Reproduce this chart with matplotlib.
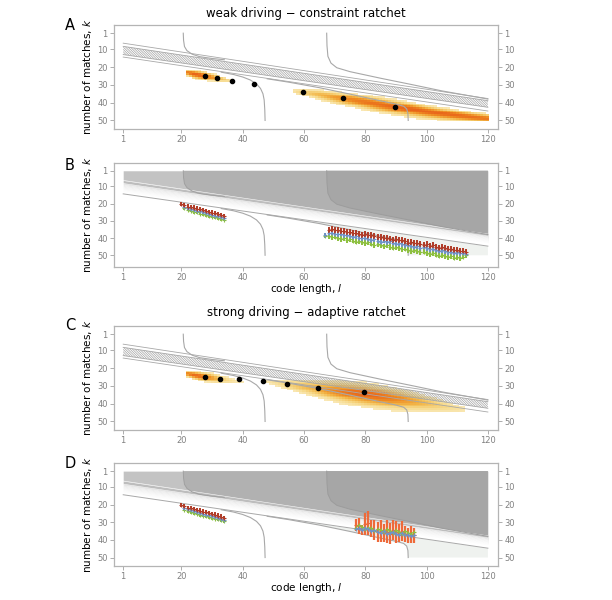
import numpy as np
import matplotlib
matplotlib.use("Agg")
from matplotlib import pyplot as plt
from matplotlib.colors import LinearSegmentedColormap

# ---------------- values ----------------
tick_x = [1, 20, 40, 60, 80, 100, 120]
tick_k = [1, 10, 20, 30, 40, 50]

# straight band of lines: k at l=1 and at l=120
band_x = [1, 120]
band_start = [6.6, 8.4, 9.0, 9.5, 10.0, 10.5, 11.0, 11.5, 12.0, 12.5, 13.0, 14.4]
band_end = [37.7, 38.9, 39.4, 39.8, 40.2, 40.6, 41.0, 41.4, 41.8, 42.2, 42.6, 44.7]

# curved boundaries (two branches each)
hyp1_up_x = [20.6, 20.7, 21.0, 21.8, 23.5, 26.0, 30.0, 34.0]
hyp1_up_k = [1.0, 5.0, 8.5, 10.8, 12.8, 14.2, 15.2, 15.9]
hyp1_lo_x = [47.3, 47.2, 47.0, 46.6, 45.8, 44.5, 42.5, 40.0, 37.0, 33.0]
hyp1_lo_k = [50.0, 44.0, 38.5, 35.0, 32.0, 29.5, 27.3, 25.6, 24.2, 22.9]
hyp2_up_x = [67.4, 67.5, 67.8, 68.8, 70.7, 75.0, 85.0, 95.0, 105.0, 120.0]
hyp2_up_k = [1.0, 8.0, 14.0, 17.8, 20.4, 22.6, 26.3, 29.8, 33.4, 38.0]
hyp2_lo_x = [94.0, 93.9, 93.5, 92.5, 90.0, 85.0, 75.0, 65.0, 55.0, 48.0]
hyp2_lo_k = [50.0, 46.0, 43.5, 42.0, 40.8, 39.0, 35.2, 31.6, 28.5, 26.6]

# mean trajectories (black dots)
dots_a_x = [27.7, 31.5, 36.6, 43.6, 59.7, 72.6, 89.6]
dots_a_k = [25.1, 26.2, 27.8, 29.8, 34.1, 37.5, 42.3]
dots_c_x = [27.7, 32.6, 38.8, 46.7, 54.6, 64.7, 79.7]
dots_c_k = [25.1, 25.9, 26.1, 27.4, 28.9, 31.0, 33.5]

# population density blobs: ridge, half width and peak per code length
blob_a1_x = [22, 24, 26, 28, 30, 32, 34, 36]
blob_a1_ridge = [23.2, 23.9, 24.5, 25.1, 25.7, 26.4, 27.0, 27.6]
blob_a1_hw = [1.2, 1.5, 1.6, 1.6, 1.5, 1.4, 1.2, 1.0]
blob_a1_peak = [0.85, 1.0, 1.0, 0.92, 0.72, 0.52, 0.36, 0.2]

blob_a2_x = [57, 60, 65, 70, 75, 80, 85, 90, 95, 100, 105, 110, 115, 120]
blob_a2_ridge = [33.6, 34.2, 35.5, 36.9, 38.2, 39.6, 41.0, 42.4, 43.7, 45.0, 46.1, 47.1, 48.0, 48.8]
blob_a2_hw = [1.2, 1.6, 2.0, 2.3, 2.5, 2.7, 2.8, 2.8, 2.7, 2.5, 2.3, 2.1, 1.9, 1.8]
blob_a2_peak = [0.18, 0.32, 0.5, 0.65, 0.78, 0.88, 0.94, 0.98, 1.0, 1.0, 0.98, 0.96, 0.92, 0.88]

blob_c1_x = [22, 24, 26, 28, 30, 32, 34, 36, 38, 40]
blob_c1_ridge = [23.3, 23.9, 24.5, 25.0, 25.5, 26.0, 26.5, 27.0, 27.4, 27.8]
blob_c1_hw = [1.2, 1.4, 1.6, 1.7, 1.8, 1.8, 1.7, 1.5, 1.3, 1.0]
blob_c1_peak = [0.8, 0.95, 0.95, 0.85, 0.65, 0.45, 0.32, 0.22, 0.14, 0.09]

blob_c2_x = [48, 52, 56, 60, 64, 68, 72, 76, 80, 84, 88, 92, 96, 100, 104, 108, 112]
blob_c2_ridge = [27.5, 28.5, 29.5, 30.4, 31.3, 32.2, 33.0, 33.8, 34.6, 35.5, 36.5, 37.5, 38.6, 39.7, 40.8, 42.0, 43.2]
blob_c2_hw = [1.2, 1.8, 2.4, 2.9, 3.3, 3.7, 4.0, 4.2, 4.3, 4.3, 4.2, 4.0, 3.7, 3.3, 2.9, 2.4, 1.8]
blob_c2_peak = [0.14, 0.22, 0.32, 0.45, 0.58, 0.72, 0.84, 0.94, 1.0, 0.96, 0.86, 0.72, 0.58, 0.45, 0.33, 0.22, 0.13]

# simulated populations (B, D): first cluster
pop1_x = [20, 21, 22, 23, 24, 25, 26, 27, 28, 29, 30, 31, 32, 33, 34]
pop1_red = [20.3, 21.0, 21.8, 22.0, 22.4, 23.0, 23.4, 23.9, 24.2, 24.8, 25.3, 25.6, 26.2, 26.8, 27.5]
pop1_blue = [np.nan, 22.0, 22.6, 23.2, 23.6, 24.3, 24.6, 25.2, 25.7, 26.1, 26.4, 27.0, 27.5, 28.0, 28.6]
pop1_green = [np.nan, 22.8, 23.5, 24.2, 24.8, 25.1, 25.9, 26.3, 26.6, 27.2, 27.6, 27.9, 28.4, 29.0, 29.3]

# B: second cluster, code lengths 67..113
pop2_x = list(range(67, 114))
pop2_red = [np.nan, 35.2, 34.9, 35.6, 35.4, 36.1, 35.9, 36.6, 36.4, 37.1,
            37.0, 37.6, 38.1, 37.8, 38.5, 38.3, 39.0, 39.6, 39.2, 40.0,
            39.8, 40.5, 41.1, 40.7, 41.4, 41.2, 42.0, 42.6, 42.1, 43.0,
            42.8, 43.4, 44.1, 43.7, 44.5, 44.2, 45.0, 45.7, 45.3, 46.0,
            46.6, 46.2, 47.0, 46.8, 47.5, 47.3, 47.9]
pop2_blue = [38.4, 37.0, 36.8, 37.4, 37.9, 37.6, 38.3, 38.0, 38.8, 39.3,
             39.0, 39.7, 40.2, 39.9, 40.6, 41.2, 40.8, 41.5, 42.1, 41.7,
             42.4, 42.0, 42.8, 43.4, 43.0, 43.7, 44.3, 43.9, 44.6, 45.2,
             44.8, 45.5, 45.1, 45.9, 46.5, 46.1, 46.8, 47.4, 47.0, 47.7,
             48.3, 47.9, 48.6, 48.2, 48.9, 48.5, 49.0]
pop2_green = [38.6, 38.9, 39.5, 39.2, 40.1, 40.6, 40.2, 41.0, 40.7, 41.5,
              42.1, 41.6, 42.4, 43.0, 42.5, 43.3, 43.9, 43.4, 44.2, 44.8,
              44.3, 45.1, 45.6, 45.2, 46.0, 46.5, 46.1, 46.9, 47.4, 47.0,
              47.8, 48.3, 47.9, 48.7, 49.3, 48.8, 49.6, 50.2, 49.7, 50.5,
              51.0, 50.6, 51.4, 50.9, 51.6, 50.8, 49.8]

# D: second cluster, code lengths 77..96
popd_x = list(range(77, 97))
popd_orange = [31.5, 32.0, 34.5, 31.0, 30.5, 33.5, 34.5, 35.5, 35.0, 36.0,
               35.5, 36.5, 34.5, 35.5, 36.0, 35.0, 36.5, 37.5, 37.0, 37.5]
popd_orange_err = [3.5, 4.5, 3.0, 6.0, 7.0, 5.0, 5.5, 5.5, 6.0, 5.0,
                   6.5, 6.0, 5.5, 6.0, 5.0, 5.5, 4.5, 4.5, 5.0, 4.0]
popd_blue = [34.0, 33.5, 34.5, 33.0, 34.0, 35.0, 34.5, 35.5, 36.0, 35.0,
             36.5, 36.0, 35.5, 36.5, 37.0, 36.0, 37.5, 37.0, 38.0, 37.5]
popd_green = [33.0, 31.5, 32.5, 34.0, 33.0, 33.5, 35.0, 34.0, 34.5, 35.5,
              34.0, 35.0, 36.0, 34.5, 35.5, 36.5, 35.0, 36.0, 36.5, 35.5]

RED, BLUE, GREEN, ORANGE = '#b03c28', '#6f93c6', '#8dc03f', '#ee6a3a'
LINE = '#a8a8a8'

heat_cmap = LinearSegmentedColormap.from_list(
    'heat', ['#fbf0cc', '#f6d98a', '#f2b648', '#ee8a22', '#e8651a'])

plt.rcParams['font.family'] = ['DejaVu Sans']
plt.rcParams['mathtext.fontset'] = 'dejavusans'
plt.rcParams['hatch.linewidth'] = 0.5

fig = plt.figure(figsize=(6.12, 6.0), dpi=100)

W, H = 612.0, 600.0
def add_panel(top, bottom):
    return fig.add_axes([114 / W, 1 - bottom / H, 384 / W, (bottom - top) / H])


def band_line(i):
    return [band_start[i], band_end[i]]


def style(ax, ylim, xlabel=False):
    ax.set_xlim(-2, 123.3)
    ax.set_ylim(*ylim)
    ax.set_xticks(tick_x)
    ax.set_yticks(tick_k)
    for s in ax.spines.values():
        s.set_color('#b4b4b4')
        s.set_linewidth(0.9)
    ax.tick_params(axis='both', direction='out', length=3, width=0.6,
                   color='#a0a0a0', labelcolor='#808080', labelsize=6, pad=1.5)
    ax.tick_params(axis='y', left=True, right=True, labelleft=True, labelright=True)
    ax.set_ylabel('number of matches, $k$', fontsize=7.5, labelpad=2)
    if xlabel:
        ax.set_xlabel('code length, $l$', fontsize=7.5, labelpad=0)


def draw_curves(ax, color=LINE):
    last = len(band_start) - 1
    for i in [0, 1, last - 1, last]:
        ax.plot(band_x, band_line(i), color=color, lw=0.6, zorder=3)
    ax.fill_between(band_x, band_line(1), band_line(last - 1), facecolor='none',
                    edgecolor='#a4a4a4', hatch='\\' * 14, lw=0, zorder=3)
    ax.plot(hyp1_up_x, hyp1_up_k, color=color, lw=0.8, zorder=3)
    ax.plot(hyp1_lo_x, hyp1_lo_k, color=color, lw=0.8, zorder=3)
    ax.plot(hyp2_up_x, hyp2_up_k, color=color, lw=0.8, zorder=3)
    ax.plot(hyp2_lo_x, hyp2_lo_k, color=color, lw=0.8, zorder=3)


def draw_blob(ax, xs, ridge, hw, peak):
    cols = np.arange(xs[0], xs[-1] + 1)
    rows = np.arange(1, 51)
    r = np.interp(cols, xs, ridge)
    h = np.interp(cols, xs, hw)
    p = np.interp(cols, xs, peak)
    d = rows[:, None] - r[None, :]
    width = np.where(d > 0, h * 1.15, h)
    z = np.ma.masked_less(p * np.exp(-(d / width) ** 2), 0.08)
    xe = np.append(cols - 0.5, cols[-1] + 0.5)
    ye = np.append(rows - 0.5, rows[-1] + 0.5)
    ax.pcolormesh(xe, ye, z, cmap=heat_cmap, vmin=0, vmax=1, zorder=1,
                  shading='flat', edgecolors='none')


def draw_regions(ax):
    # light region above the band
    ax.fill_between(band_x, [1, 1], band_line(0), color='#c3c3c3', lw=0, zorder=0.5)
    # between the two curves
    px = hyp1_up_x + [120, 120]
    pk = hyp1_up_k + [band_end[0], 1]
    ax.fill(px, pk, color='#b1b1b1', lw=0, zorder=0.6)
    px = hyp2_up_x + [120]
    pk = hyp2_up_k + [1]
    ax.fill(px, pk, color='#a6a6a6', lw=0, zorder=0.7)
    # fading band
    greys = ['#bdbdbd', '#c6c6c6', '#cecece', '#d6d6d6', '#dddddd', '#e4e4e4',
             '#eaeaea', '#f0f0f0', '#f5f5f5', '#f9f9f9', '#ffffff']
    for i in range(len(band_start) - 1):
        ax.fill_between(band_x, band_line(i), band_line(i + 1), color=greys[i],
                        lw=0, zorder=0.8)
        ax.plot(band_x, band_line(i), color='white', lw=0.4, zorder=0.9)
    ax.plot(band_x, band_line(len(band_start) - 1), color=LINE, lw=0.7, zorder=2)
    # pale corner right of the lower branch
    px = hyp2_lo_x[::-1] + [120, 120]
    pk = hyp2_lo_k[::-1] + [50, band_end[-1]]
    ax.fill(px, pk, color='#eff2ef', lw=0, zorder=0.5)
    ax.plot(hyp1_up_x, hyp1_up_k, color='#a0a0a0', lw=0.7, zorder=1)
    ax.plot(hyp2_up_x, hyp2_up_k, color='#9c9c9c', lw=0.7, zorder=1)
    ax.plot(hyp1_lo_x, hyp1_lo_k, color=LINE, lw=0.8, zorder=2)
    ax.plot(hyp2_lo_x, hyp2_lo_k, color=LINE, lw=0.8, zorder=2)


def bars(ax, x, k, err, color, lw=1.4):
    ax.errorbar(x, k, yerr=err, fmt='+', color=color, ms=2.5, mew=0.8,
                elinewidth=lw, capsize=0, zorder=5)


def draw_pop1(ax):
    bars(ax, pop1_x, pop1_green, 1.0, GREEN)
    bars(ax, pop1_x, pop1_blue, 1.0, BLUE)
    bars(ax, pop1_x, pop1_red, 1.3, RED)


# ---- A ----
ax_a = add_panel(25, 129)
draw_blob(ax_a, blob_a1_x, blob_a1_ridge, blob_a1_hw, blob_a1_peak)
draw_blob(ax_a, blob_a2_x, blob_a2_ridge, blob_a2_hw, blob_a2_peak)
draw_curves(ax_a)
ax_a.plot(dots_a_x, dots_a_k, 'o', color='black', ms=3, zorder=6)
style(ax_a, (54.8, -3.6))

# ---- B ----
ax_b = add_panel(163, 267)
draw_regions(ax_b)
draw_pop1(ax_b)
bars(ax_b, pop2_x, pop2_green, 1.6, GREEN)
bars(ax_b, pop2_x, pop2_blue, 1.4, BLUE)
bars(ax_b, pop2_x, pop2_red, 1.8, RED)
style(ax_b, (56.8, -3.5), xlabel=True)

# ---- C ----
ax_c = add_panel(326, 430)
draw_blob(ax_c, blob_c1_x, blob_c1_ridge, blob_c1_hw, blob_c1_peak)
draw_blob(ax_c, blob_c2_x, blob_c2_ridge, blob_c2_hw, blob_c2_peak)
draw_curves(ax_c)
ax_c.plot(dots_c_x, dots_c_k, 'o', color='black', ms=3, zorder=6)
style(ax_c, (54.8, -3.6))

# ---- D ----
ax_d = add_panel(463, 566)
draw_regions(ax_d)
draw_pop1(ax_d)
bars(ax_d, popd_x, popd_orange, popd_orange_err, ORANGE, lw=1.6)
ax_d.plot(popd_x, popd_green, '-+', color=GREEN, lw=0.7, ms=2.5, mew=0.8, zorder=6)
ax_d.plot(popd_x, popd_blue, '-+', color=BLUE, lw=0.7, ms=2.5, mew=0.8, zorder=6)
style(ax_d, (54.8, -3.6), xlabel=True)

# titles and panel letters
fig.text(0.5, 1 - 13 / H, 'weak driving \u2212 constraint ratchet', ha='center',
         va='center', fontsize=8.5)
fig.text(0.5, 1 - 313 / H, 'strong driving \u2212 adaptive ratchet', ha='center',
         va='center', fontsize=8.5)
for letter, y in [('A', 26), ('B', 166), ('C', 325), ('D', 463)]:
    fig.text(70 / W, 1 - y / H, letter, ha='center', va='center', fontsize=10.5)

fig.savefig('out.png', dpi=100, facecolor='white')
